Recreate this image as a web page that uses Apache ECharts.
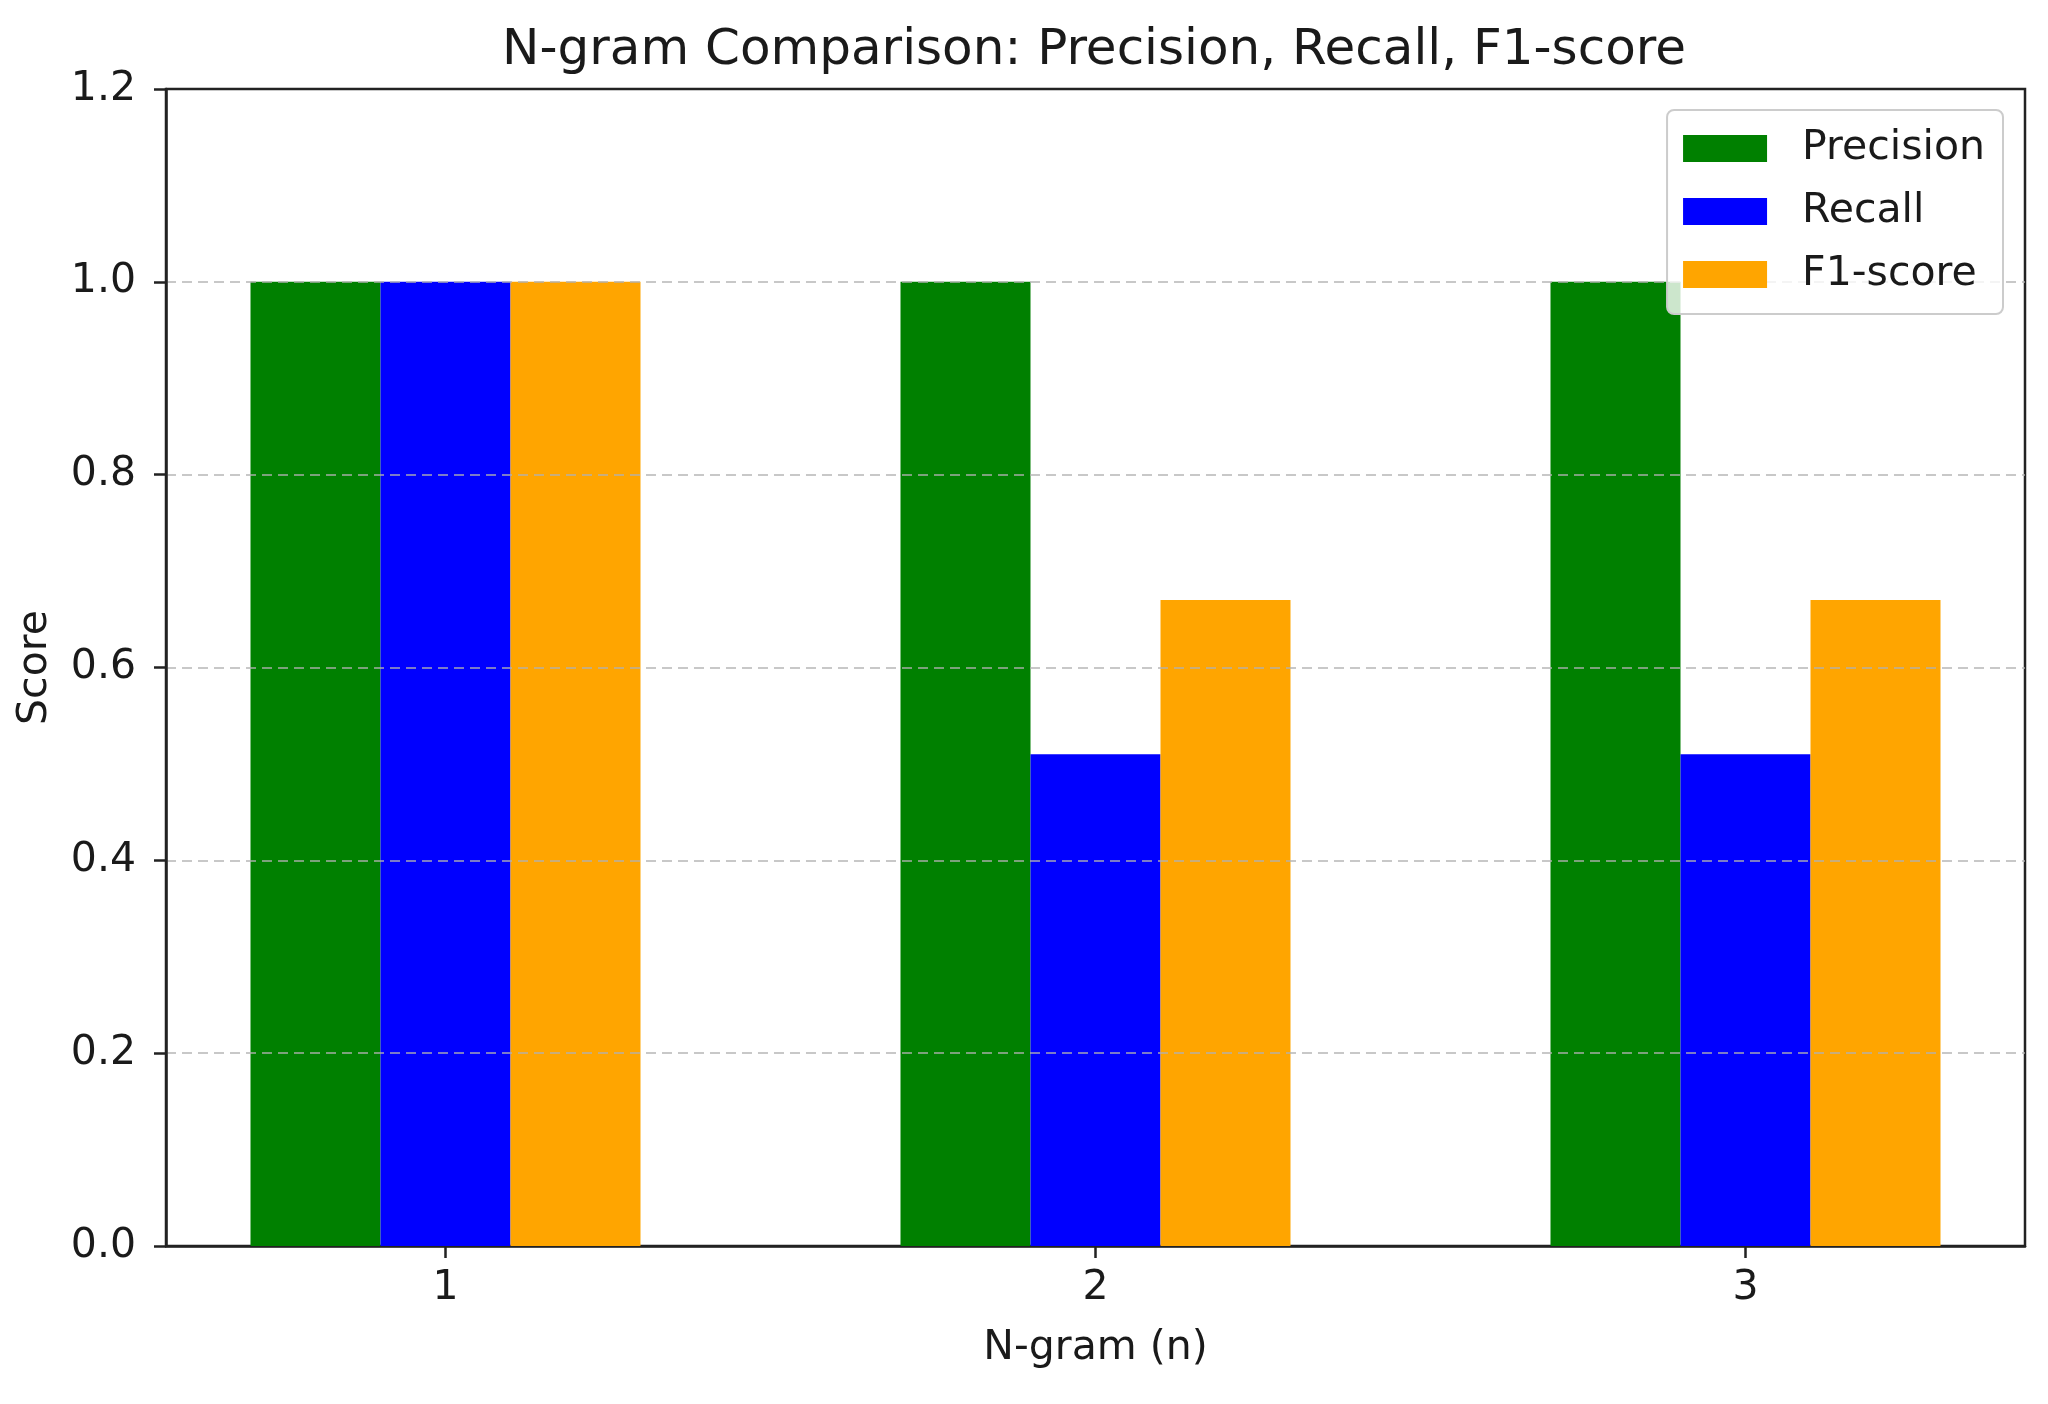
<!DOCTYPE html>
<html>
<head>
<meta charset="utf-8">
<script src="https://cdn.jsdelivr.net/npm/echarts@6/dist/echarts.min.js"></script>
<style>
html,body{margin:0;padding:0;background:#fff;}
#chart{width:2048px;height:1404px;}
</style>
</head>
<body>
<div id="chart"></div>
<script>
// ---- data ----
const ngrams = [1, 2, 3];
const precision = [1.0, 1.0, 1.0];
const recall = [1.0, 0.51, 0.51];
const f1score = [1.0, 0.67, 0.67];
const yTicks = [0.0, 0.2, 0.4, 0.6, 0.8, 1.0, 1.2];
const seriesNames = ['Precision', 'Recall', 'F1-score'];
const seriesColors = ['#008000', '#0000ff', '#ffa500'];

const FONT = 'DejaVu Sans';
const AXIS_COLOR = '#222222';

const chart = echarts.init(document.getElementById('chart'), null, {renderer: 'canvas'});

function toPairs(vals) { return ngrams.map((n, i) => [n, vals[i]]); }
const allVals = [precision, recall, f1score];

const option = {
  backgroundColor: '#ffffff',
  animation: false,
  title: {
    text: 'N-gram Comparison: Precision, Recall, F1-score',
    left: 1089,
    textAlign: 'center',
    top: 21,
    textStyle: {fontFamily: FONT, fontSize: 50, fontWeight: 'normal', color: '#1a1a1a'}
  },
  legend: {
    orient: 'vertical',
    right: 45,
    top: 110,
    icon: 'rect',
    itemWidth: 84,
    itemHeight: 27,
    itemGap: 22,
    padding: [18, 18, 19, 16],
    backgroundColor: 'rgba(255,255,255,0.8)',
    borderColor: '#cccccc',
    borderWidth: 2,
    borderRadius: 7,
    z: 10,
    textStyle: {fontFamily: FONT, fontSize: 41, color: '#1a1a1a', padding: [0, 0, 0, 30]},
    data: seriesNames
  },
  grid: {
    left: 166, right: 23, top: 89, bottom: 158,
    show: true, borderColor: AXIS_COLOR, borderWidth: 2.5, backgroundColor: 'transparent'
  },
  xAxis: {
    type: 'value',
    min: 0.57,
    max: 3.43,
    name: 'N-gram (n)',
    nameLocation: 'middle',
    nameGap: 82,
    nameTextStyle: {fontFamily: FONT, fontSize: 41, color: '#1a1a1a'},
    axisLine: {show: true, lineStyle: {color: AXIS_COLOR, width: 2.5}},
    axisTick: {show: true, length: 12, lineStyle: {color: AXIS_COLOR, width: 2.5}, customValues: ngrams},
    axisLabel: {fontFamily: FONT, fontSize: 41, color: '#1a1a1a', margin: 22, customValues: ngrams,
      formatter: v => String(v)},
    splitLine: {show: false}
  },
  yAxis: {
    type: 'value',
    min: 0,
    max: 1.2,
    interval: 0.2,
    z: 5,
    name: 'Score',
    nameLocation: 'middle',
    nameGap: 110,
    nameTextStyle: {fontFamily: FONT, fontSize: 41, color: '#1a1a1a'},
    axisLine: {show: true, lineStyle: {color: AXIS_COLOR, width: 2.5}},
    axisTick: {show: true, length: 12, lineStyle: {color: AXIS_COLOR, width: 2.5}},
    axisLabel: {fontFamily: FONT, fontSize: 41, color: '#1a1a1a', margin: 30,
      formatter: v => {
        const t = yTicks.find(x => Math.abs(x - v) < 1e-9);
        return (t !== undefined ? t : v).toFixed(1);
      }},
    splitLine: {show: true, showMinLine: false, showMaxLine: false,
      lineStyle: {color: 'rgba(176,176,176,0.7)', width: 2, type: [10, 6]}}
  },
  series: seriesNames.map((name, k) => ({
    name: name,
    type: 'bar',
    data: toPairs(allVals[k]),
    barGap: '0%',
    barCategoryGap: '40%',
    itemStyle: {color: seriesColors[k]}
  }))
};
chart.setOption(option);
</script>
</body>
</html>
